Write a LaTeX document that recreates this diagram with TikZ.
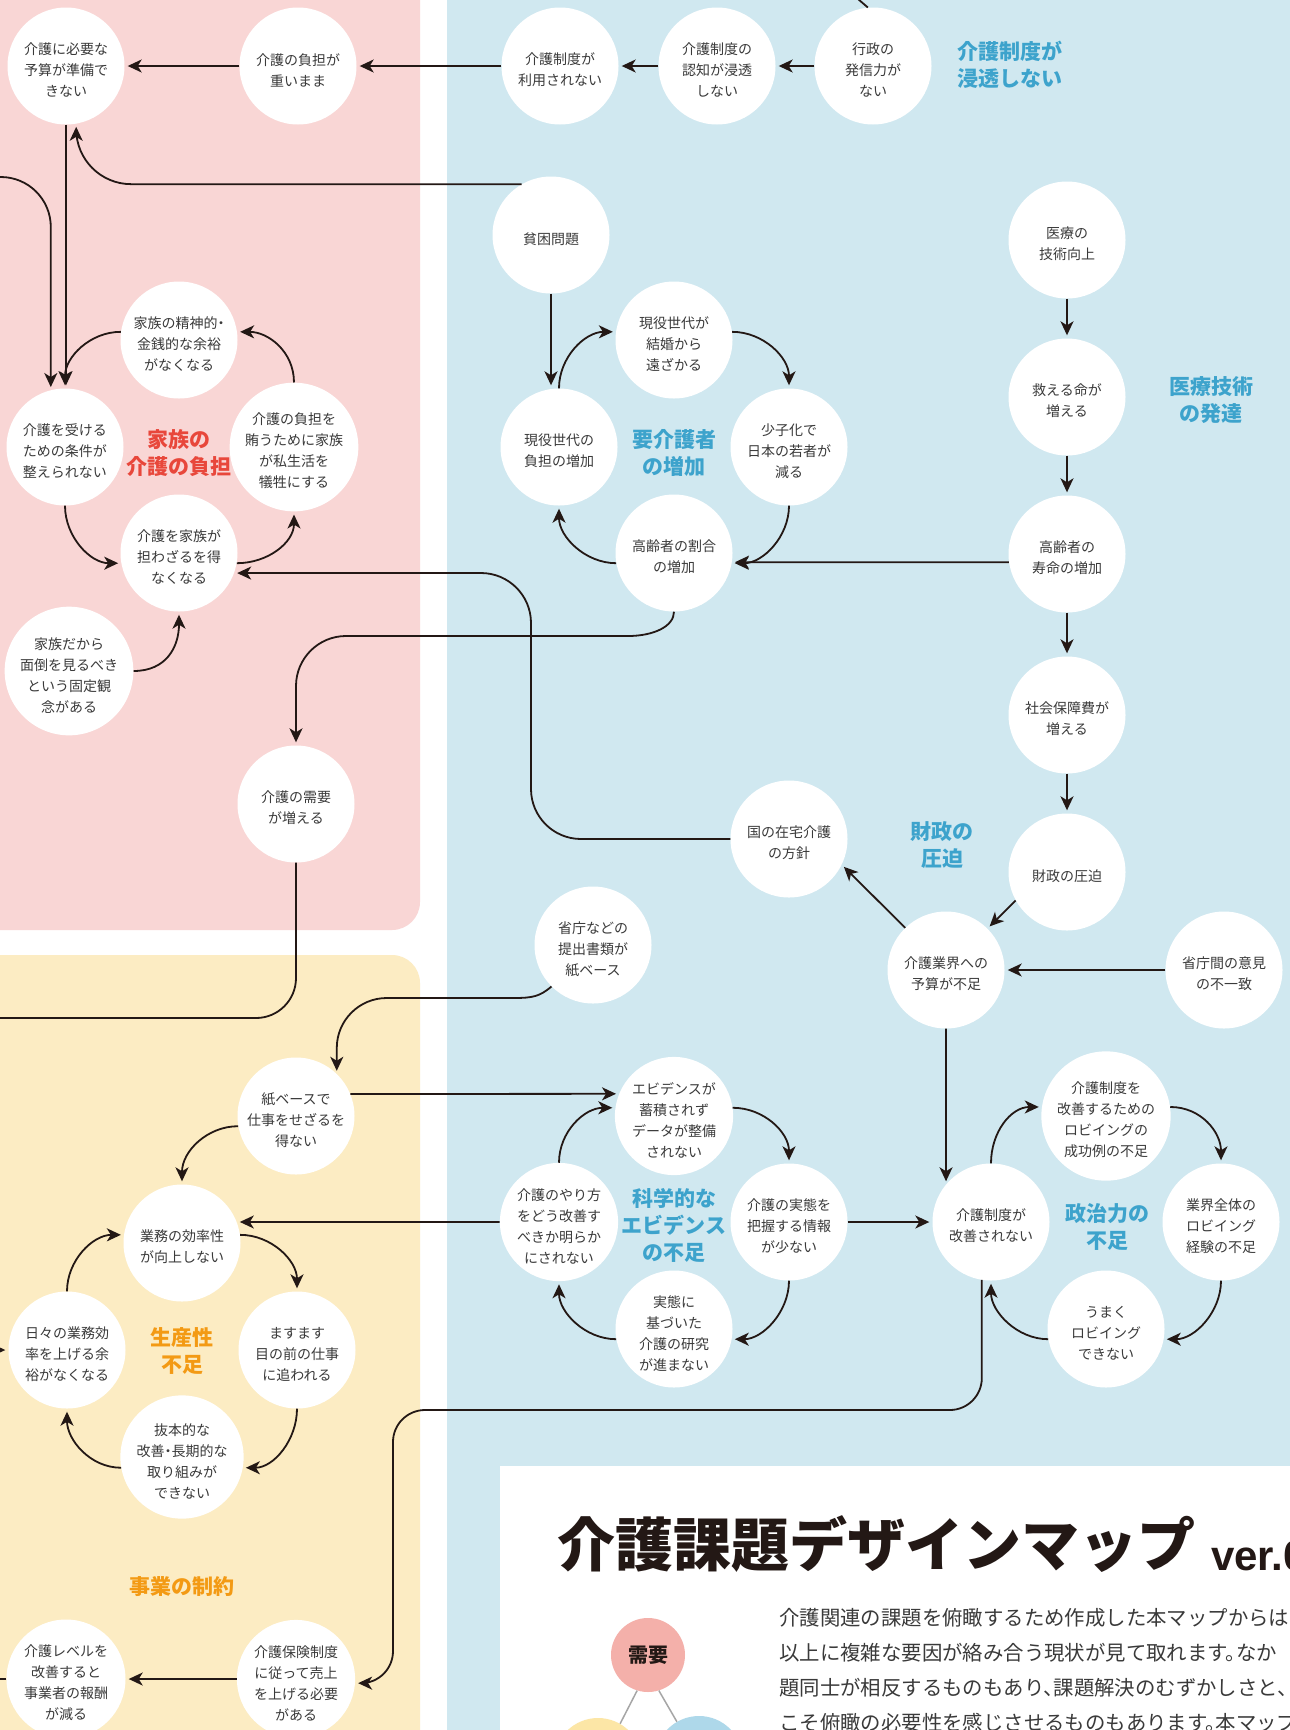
\documentclass[tikz,border=0pt]{standalone}
\usepackage{fontspec}
\newfontfamily\jp{Noto Sans CJK JP}[RawFeature=+halt]
\newfontfamily\lat{Liberation Sans}
\usetikzlibrary{arrows.meta,calc}

\definecolor{pinkbg}{HTML}{F9D6D5}
\definecolor{bluebg}{HTML}{D0E8F0}
\definecolor{yellowbg}{HTML}{FCECC3}
\definecolor{labblue}{HTML}{3DA3CC}
\definecolor{labred}{HTML}{E8473B}
\definecolor{laborange}{HTML}{F39A14}
\definecolor{linec}{HTML}{231815}
\definecolor{ink}{HTML}{3A3A3A}
\definecolor{juyocol}{HTML}{F4B0AA}
\definecolor{yelcol}{HTML}{FCE6A6}
\definecolor{blucol}{HTML}{AED8EA}

% taller first line, so the text block sits a little low in its circle
\newcommand\lift{\rule{0pt}{20pt}}

\begin{document}
\begin{tikzpicture}[x=1pt,y=-1pt,
  issue/.style={circle, fill=white, minimum size=117pt, inner sep=0pt, align=center,
    font=\jp\fontsize{14}{21}\selectfont, text=ink},
  link/.style={line width=1.8pt, draw=linec, -{Stealth[length=14pt,width=13pt,inset=4pt]}, shorten >=3pt},
  plainline/.style={line width=1.8pt, draw=linec},
  grouplabel/.style={font=\jp\bfseries\fontsize{21}{27}\selectfont, align=center, inner sep=0pt},
  bluelabel/.style={grouplabel, text=labblue},
  redlabel/.style={grouplabel, text=labred},
  orangelabel/.style={grouplabel, text=laborange},
  bodytext/.style={font=\jp\fontsize{20.4}{35}\selectfont, text=ink, anchor=base west, inner sep=0pt}
]
\useasboundingbox (0,0) rectangle (1290,1730);
\clip (0,0) rectangle (1290,1730);

% coloured areas
\fill[white] (0,0) rectangle (1290,1730);
\fill[pinkbg, rounded corners=28] (-40,-40) rectangle (420,930);
\fill[yellowbg, rounded corners=28] (-40,955) rectangle (420,1800);
\fill[bluebg] (447,-40) rectangle (1330,1800);
\fill[white] (500,1466) rectangle (1330,1800);

% ---- issues ----
\node[issue] (yosan) at (66,66) {\lift 介護に必要な\\予算が準備で\\きない};
\node[issue] (omoi) at (298,66) {\lift 介護の負担が\\重いまま};
\node[issue] (riyou) at (560,66) {\lift 介護制度が\\利用されない};
\node[issue] (ninchi) at (717,66) {\lift 介護制度の\\認知が浸透\\しない};
\node[issue] (gyosei) at (873,66) {\lift 行政の\\発信力が\\ない};
\node[issue] (hinkon) at (551,235) {\lift 貧困問題};

\node[issue] (iryo) at (1067,240) {\lift 医療の\\技術向上};
\node[issue] (sukueru) at (1067,397) {\lift 救える命が\\増える};
\node[issue] (jumyo) at (1067,554) {\lift 高齢者の\\寿命の増加};
\node[issue] (shakai) at (1067,715) {\lift 社会保障費が\\増える};
\node[issue] (zaisei) at (1067,872) {\lift 財政の圧迫};
\node[issue] (gyokai) at (946,970) {\lift 介護業界への\\予算が不足};
\node[issue] (shocho) at (1224,970) {\lift 省庁間の意見\\の不一致};
\node[issue] (kuni) at (789,839) {\lift 国の在宅介護\\の方針};

\node[issue] (kekkon) at (674,340) {\lift 現役世代が\\結婚から\\遠ざかる};
\node[issue] (genfutan) at (559,447) {\lift 現役世代の\\負担の増加};
\node[issue] (shoshika) at (789,447) {\lift 少子化で\\日本の若者が\\減る};
\node[issue] (wariai) at (674,553) {\lift 高齢者の割合\\の増加};

\node[issue] (seishin) at (179,340) {\lift 家族の精神的・\\金銭的な余裕\\がなくなる};
\node[issue] (ukeru) at (65,447) {\lift 介護を受ける\\ための条件が\\整えられない};
\node[issue] (makanau) at (294,447) {\lift 介護の負担を\\賄うために家族\\が私生活を\\犠牲にする};
\node[issue] (ninau) at (179,553) {\lift 介護を家族が\\担わざるを得\\なくなる};
\node[issue] (kazoku) at (69,671) {\lift 家族だから\\面倒を見るべき\\という固定観\\念がある};
\node[issue] (juyo) at (296,804) {\lift 介護の需要\\が増える};

\node[issue] (teishutsu) at (593,945) {\lift 省庁などの\\提出書類が\\紙ベース};
\node[issue] (kami) at (296,1116) {\lift 紙ベースで\\仕事をせざるを\\得ない};
\node[issue] (gyomu) at (182,1243) {\lift 業務の効率性\\が向上しない};
\node[issue] (masumasu) at (297,1350) {\lift ますます\\目の前の仕事\\に追われる};
\node[issue] (hibi) at (67,1350) {\lift 日々の業務効\\率を上げる余\\裕がなくなる};
\node[issue] (bapponteki) at (182,1457) {\lift 抜本的な\\改善・長期的な\\取り組みが\\できない};

\node[issue] (evi) at (674,1116) {\lift エビデンスが\\蓄積されず\\データが整備\\されない};
\node[issue] (yari) at (559,1222) {\lift 介護のやり方\\をどう改善す\\べきか明らか\\にされない};
\node[issue] (haaku) at (789,1222) {\lift 介護の実態を\\把握する情報\\が少ない};
\node[issue] (kenkyu) at (674,1329) {\lift 実態に\\基づいた\\介護の研究\\が進まない};

\node[issue] (kaizen) at (991,1222) {\lift 介護制度が\\改善されない};
\node[issue] (lobby) at (1106,1116) {\lift 介護制度を\\改善するための\\ロビイングの\\成功例の不足};
\node[issue] (zentai) at (1221,1222) {\lift 業界全体の\\ロビイング\\経験の不足};
\node[issue] (umaku) at (1106,1329) {\lift うまく\\ロビイング\\できない};

\node[issue] (hoken) at (296,1679) {\lift 介護保険制度\\に従って売上\\を上げる必要\\がある};
\node[issue] (level) at (66,1679) {\lift 介護レベルを\\改善すると\\事業者の報酬\\が減る};

% ---- group labels ----
\node[bluelabel, align=left, anchor=west] (lseido) at (957,65) {介護制度が\\浸透しない};
\node[bluelabel] (liryo) at (1211,400) {医療技術\\の発達};
\node[bluelabel] (lzaisei) at (942,845) {財政の\\圧迫};
\node[bluelabel] (lyokaigo) at (674,453) {要介護者\\の増加};
\node[redlabel] (lkazoku) at (179,453) {家族の\\介護の負担};
\node[bluelabel] (lkagaku) at (674,1225) {科学的な\\エビデンス\\の不足};
\node[bluelabel] (lseiji) at (1107,1227) {政治力の\\不足};
\node[orangelabel] (lseisan) at (182,1351) {生産性\\不足};
\node[orangelabel] (ljigyo) at (182,1587) {事業の制約};

% ---- straight chains ----
\draw[link] (gyosei) -- (ninchi);
\draw[link] (ninchi) -- (riyou);
\draw[link] (riyou) -- (omoi);
\draw[link] (omoi) -- (yosan);
\draw[plainline] (gyosei.95) -- (836,-20);
\draw[link] (yosan.south) -- (yosan.south |- ukeru.north);
\draw[link, rounded corners=50] (-20,177) -| (ukeru.104);
\draw[link, rounded corners=55] (hinkon.120) -| (yosan.-80);
\draw[link] (hinkon.south) -- (hinkon.south |- genfutan.north);

\draw[link] (iryo) -- (sukueru);
\draw[link] (sukueru) -- (jumyo);
\draw[link] (jumyo) -- (shakai);
\draw[link] (shakai) -- (zaisei);
\draw[link] (jumyo.188) -- (wariai.-9);
\draw[link] (zaisei.209) -- (gyokai.45);
\draw[link] (shocho) -- (gyokai);
\draw[link] (gyokai.134) -- (kuni.-26);
\draw[link, rounded corners=50] (kuni.west) -- (531,839) -- (531,573) -- (ninau.-20);

% elderly share -> care demand: a soft bend off the circle, then a rounded elbow
\coordinate (wbend) at (628,636);
\draw[plainline] (wariai.south) .. controls +(0,15) and +(25,0) .. (wbend);
\draw[link, rounded corners=50] (wbend) -- (296,636) -- (juyo.north);
\draw[plainline, rounded corners=40] (juyo.south) -- (296,1018) -- (-20,1018);

% paper-based filings -> paper-based work
\coordinate (tbend) at (513,998);
\draw[plainline] (teishutsu.225) .. controls +(-12,10) and +(20,0) .. (tbend);
\draw[link, rounded corners=50] (tbend) -| (kami.46);

\draw[link] (kami.190) .. controls +(-31,0) and +(0,-33) .. (gyomu.north);
\draw[link] (kami.22) -- (evi.158);
\draw[link] (yari.west) -- (gyomu.21);
\draw[link] (haaku) -- (kaizen);
\draw[link] (gyokai.south) -- (kaizen.140);
\draw[link, rounded corners=32] (kaizen.-99) |- (393,1410) |- (hoken.-4);
\draw[link] (hoken) -- (level);
\draw[plainline] (level.west) -- (-20,1679);
\draw[link] (-30,1350) -- (hibi.west);

% ---- loops ----
% population loop
\draw[link] (genfutan.north) .. controls +(0,-31) and +(-31,0) .. (kekkon.172);
\draw[link] (kekkon.8) .. controls +(31,0) and +(0,-31) .. (shoshika.north);
\draw[link] (shoshika.south) .. controls +(0,31) and +(31,0) .. (wariai.-10);
\draw[link] (wariai.190) .. controls +(-31,0) and +(0,31) .. (genfutan.south);
% family loop
\draw[link] (makanau.north) .. controls +(0,-31) and +(31,0) .. (seishin.8);
\draw[link] (seishin.172) .. controls +(-31,0) and +(0,-31) .. (ukeru.north);
\draw[link] (ukeru.south) .. controls +(0,31) and +(-31,0) .. (ninau.190);
\draw[link] (ninau.-10) .. controls +(31,0) and +(0,31) .. (makanau.south);
\draw[link] (kazoku.east) .. controls +(33,0) and +(0,35) .. (ninau.south);
% productivity loop
\draw[link] (gyomu.8) .. controls +(31,0) and +(0,-31) .. (masumasu.north);
\draw[link] (masumasu.south) .. controls +(0,31) and +(31,0) .. (bapponteki.-10);
\draw[link] (bapponteki.190) .. controls +(-31,0) and +(0,31) .. (hibi.south);
\draw[link] (hibi.north) .. controls +(0,-31) and +(-31,0) .. (gyomu.172);
% evidence loop
\draw[link] (yari.north) .. controls +(0,-31) and +(-31,0) .. (evi.172);
\draw[link] (evi.8) .. controls +(31,0) and +(0,-31) .. (haaku.north);
\draw[link] (haaku.south) .. controls +(0,31) and +(31,0) .. (kenkyu.-10);
\draw[link] (kenkyu.190) .. controls +(-31,0) and +(0,31) .. (yari.south);
% lobbying loop
\draw[link] (kaizen.north) .. controls +(0,-31) and +(-31,0) .. (lobby.172);
\draw[link] (lobby.8) .. controls +(31,0) and +(0,-31) .. (zentai.north);
\draw[link] (zentai.south) .. controls +(0,31) and +(31,0) .. (umaku.-10);
\draw[link] (umaku.190) .. controls +(-31,0) and +(0,31) .. (kaizen.south);

% ---- title panel ----
\node[font=\jp\bfseries\fontsize{58}{58}\selectfont, text=linec, anchor=base west, inner sep=0pt] (title) at (557,1566) {介護課題デザインマップ};
\node[font=\lat\bfseries\fontsize{42}{42}\selectfont, text=linec, anchor=base west, inner sep=0pt] (ver) at (1211,1570) {ver.0};
\node[bodytext] (b1) at (779,1625) {介護関連の課題を俯瞰するため作成した本マップからは};
\node[bodytext] (b2) at (779,1660) {以上に複雑な要因が絡み合う現状が見て取れます。なか};
\node[bodytext] (b3) at (779,1695) {題同士が相反するものもあり、課題解決のむずかしさと、};
\node[bodytext] (b4) at (779,1730) {こそ俯瞰の必要性を感じさせるものもあります。本マップ};

\node[circle, fill=yelcol, minimum size=88pt, inner sep=0pt] (yel) at (598,1762) {};
\node[circle, fill=blucol, minimum size=88pt, inner sep=0pt] (blu) at (699,1760) {};
\node[circle, fill=juyocol, minimum size=74pt, inner sep=0pt, font=\jp\bfseries\fontsize{20}{20}\selectfont, text=linec] (juyoc) at (648,1655) {需要};
\draw[line width=1.5pt, draw=gray!70] (juyoc.-107) -- (yel.60);
\draw[line width=1.5pt, draw=gray!70] (juyoc.-73) -- (blu.120);
\end{tikzpicture}
\end{document}
